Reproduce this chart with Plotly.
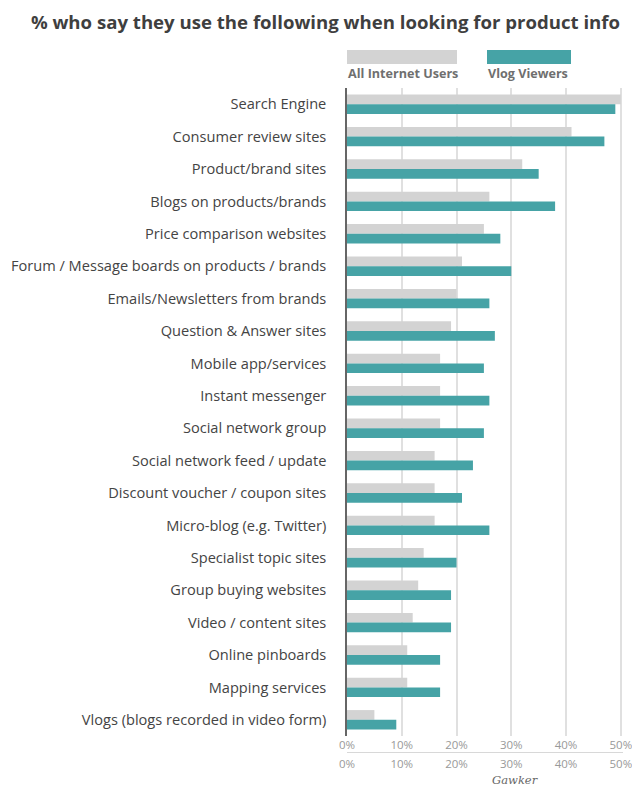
import plotly.graph_objects as go

categories = [
    "Search Engine",
    "Consumer review sites",
    "Product/brand sites",
    "Blogs on products/brands",
    "Price comparison websites",
    "Forum / Message boards on products / brands",
    "Emails/Newsletters from brands",
    "Question & Answer sites",
    "Mobile app/services",
    "Instant messenger",
    "Social network group",
    "Social network feed / update",
    "Discount voucher / coupon sites",
    "Micro-blog (e.g. Twitter)",
    "Specialist topic sites",
    "Group buying websites",
    "Video / content sites",
    "Online pinboards",
    "Mapping services",
    "Vlogs (blogs recorded in video form)",
]
all_users = [50, 41, 32, 26, 25, 21, 20, 19, 17, 17, 17, 16, 16, 16, 14, 13, 12, 11, 11, 5]
vlog_viewers = [49, 47, 35, 38, 28, 30, 26, 27, 25, 26, 25, 23, 21, 26, 20, 19, 19, 17, 17, 9]
tick_vals = [0, 10, 20, 30, 40, 50]
tick_text = ["0%", "10%", "20%", "30%", "40%", "50%"]
series_names = ["All Internet Users", "Vlog Viewers"]

GRAY = "#d3d3d3"
TEAL = "#46a3a6"
FONT = "Open Sans"

XMAX = 50.4

fig = go.Figure()
fig.add_trace(go.Bar(y=categories, x=all_users, orientation="h", name=series_names[0],
                     marker=dict(color=GRAY, line=dict(width=0)), showlegend=False))
fig.add_trace(go.Bar(y=categories, x=vlog_viewers, orientation="h", name=series_names[1],
                     marker=dict(color=TEAL, line=dict(width=0)), showlegend=False))
# invisible trace to hold the second (duplicate) bottom axis
fig.add_trace(go.Scatter(x=[0, 50], y=[categories[0], categories[0]], xaxis="x2",
                         mode="markers", marker=dict(opacity=0, size=1), showlegend=False,
                         hoverinfo="skip"))

W, H = 632, 786
mt, mb, ml, mr = 88, 16, 347, 9
plot_w = W - ml - mr
plot_h = H - mt - mb
bar_bottom = 736
ydom0 = (H - mb - bar_bottom) / plot_h
x2pos = (H - mb - 752) / plot_h

fig.update_layout(
    width=W, height=H,
    margin=dict(t=mt, b=mb, l=ml, r=mr, pad=0, autoexpand=False),
    paper_bgcolor="white", plot_bgcolor="white",
    barmode="group", bargap=0.4, bargroupgap=0,
    font=dict(family=FONT, color="#444"),
    title=dict(text="<b>% who say they use the following when looking for product info</b>",
               x=(620 / W), xanchor="right", y=1 - 22 / H, yanchor="middle",
               font=dict(family=FONT, size=18.6, color="#3f3f3f")),
    xaxis=dict(range=[0, XMAX], tickvals=tick_vals, ticktext=tick_text,
               showgrid=True, gridcolor="#e0e0e0", gridwidth=2, zeroline=False,
               showline=False, ticks="", tickfont=dict(size=11.5, color="#999"),
               ticklabeloverflow="allow", automargin=False,
               layer="below traces", anchor="y", fixedrange=True),
    xaxis2=dict(range=[0, XMAX], overlaying="x", anchor="free", position=x2pos, side="bottom",
                tickvals=tick_vals, ticktext=tick_text, showgrid=False, zeroline=False,
                showline=True, linecolor="#d8d8d8", linewidth=1, ticks="outside",
                ticklen=1, tickcolor="rgba(0,0,0,0)", ticklabeloverflow="allow",
                automargin=False,
                tickfont=dict(size=11.5, color="#999")),
    yaxis=dict(domain=[ydom0, 1], categoryorder="array", categoryarray=categories,
               range=[len(categories) - 0.5, -0.5], autorange=False,
               showgrid=False, zeroline=False, automargin=False,
               showline=True, linecolor="#666", linewidth=1.5, layer="below traces",
               ticks="", ticklabelstandoff=16,
               tickfont=dict(size=14.6, color="#444")),
)

# legend drawn as swatches above labels
fig.add_shape(type="rect", xref="paper", yref="paper",
              x0=(347 - ml) / plot_w, x1=(457 - ml) / plot_w,
              y0=1 + (mt - 64) / plot_h, y1=1 + (mt - 50) / plot_h,
              fillcolor=GRAY, line=dict(width=0))
fig.add_shape(type="rect", xref="paper", yref="paper",
              x0=(487 - ml) / plot_w, x1=(571 - ml) / plot_w,
              y0=1 + (mt - 64) / plot_h, y1=1 + (mt - 50) / plot_h,
              fillcolor=TEAL, line=dict(width=0))
fig.add_annotation(text="<b>" + series_names[0] + "</b>", xref="paper", yref="paper",
                   x=(346 - ml) / plot_w, xanchor="left",
                   y=1 + (mt - 73) / plot_h, yanchor="middle", showarrow=False,
                   font=dict(size=12.6, color="#6f6f6f", family=FONT))
fig.add_annotation(text="<b>" + series_names[1] + "</b>", xref="paper", yref="paper",
                   x=(486 - ml) / plot_w, xanchor="left",
                   y=1 + (mt - 73) / plot_h, yanchor="middle", showarrow=False,
                   font=dict(size=12.6, color="#6f6f6f", family=FONT))
fig.add_annotation(text="<i>Gawker</i>", xref="paper", yref="paper",
                   x=(515 - ml) / plot_w, xanchor="center",
                   y=-(780 - (H - mb)) / plot_h, yanchor="middle", showarrow=False,
                   font=dict(size=11.5, color="#666", family="DejaVu Serif"))

fig.write_html("out.html")
